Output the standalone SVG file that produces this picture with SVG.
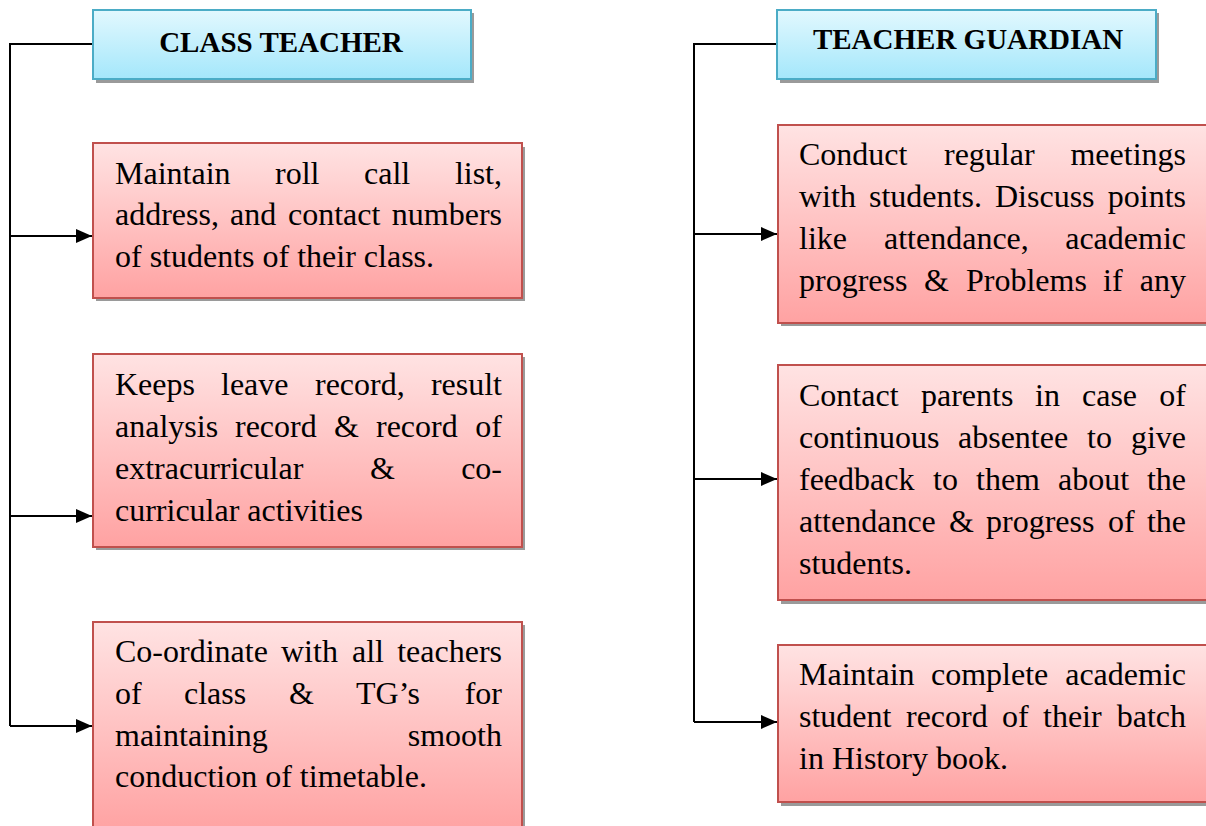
<svg xmlns="http://www.w3.org/2000/svg" width="1206" height="826" viewBox="0 0 1206 826">
<defs>
<linearGradient id="gBlue" x1="0" y1="0" x2="0" y2="1"><stop offset="0" stop-color="#e2f8fe"/><stop offset="1" stop-color="#a4e7fb"/></linearGradient>
<linearGradient id="gRed" x1="0" y1="0" x2="0" y2="1"><stop offset="0" stop-color="#ffe3e3"/><stop offset="1" stop-color="#ffa2a2"/></linearGradient>
<marker id="arr" markerWidth="16" markerHeight="14" refX="16" refY="7" orient="auto" markerUnits="userSpaceOnUse"><path d="M0,0 L16,7 L0,14 Z" fill="#000"/></marker>
</defs>
<style>
.shadow{fill:#9a9a9a}
.hdr{fill:url(#gBlue);stroke:#4bacc6;stroke-width:2}
.box{fill:url(#gRed);stroke:#c0504d;stroke-width:2}
.ht{font-family:"Liberation Serif","Times New Roman",serif;font-weight:bold;font-size:29px;fill:#000;text-anchor:middle}
.t{font-family:"Liberation Serif","Times New Roman",serif;font-size:32px;fill:#000}
.e{text-anchor:end}
.ln{fill:none;stroke:#000;stroke-width:2}
</style>
<g id="connectors">
<path class="ln" d="M93,44 H10 V726"/>
<path class="ln" d="M10,236 H92" marker-end="url(#arr)"/>
<path class="ln" d="M10,516 H92" marker-end="url(#arr)"/>
<path class="ln" d="M10,726 H92" marker-end="url(#arr)"/>
<path class="ln" d="M777,44 H694 V722"/>
<path class="ln" d="M694,234 H777" marker-end="url(#arr)"/>
<path class="ln" d="M694,479 H777" marker-end="url(#arr)"/>
<path class="ln" d="M694,722 H777" marker-end="url(#arr)"/>
</g>
<g id="class-teacher">
<rect class="shadow" x="96" y="13" width="378" height="70"/>
<rect class="hdr" x="93" y="10" width="378" height="69"/>
<text class="ht" x="281" y="52">CLASS TEACHER</text>
</g>
<g id="teacher-guardian">
<rect class="shadow" x="780" y="13" width="379" height="70"/>
<rect class="hdr" x="777" y="10" width="379" height="69"/>
<text class="ht" x="968" y="49">TEACHER GUARDIAN</text>
</g>
<g id="ct1">
<rect class="shadow" x="96" y="147" width="429" height="154"/>
<rect class="box" x="93" y="143" width="429" height="155"/>
<text class="t" y="184"><tspan x="115">Maintain</tspan><tspan x="275">roll</tspan><tspan x="364">call</tspan><tspan x="502" class="e">list,</tspan></text>
<text class="t" y="225"><tspan x="115">address,</tspan><tspan x="230">and</tspan><tspan x="288">contact</tspan><tspan x="502" class="e">numbers</tspan></text>
<text class="t" x="115" y="267">of students of their class.</text>
</g>
<g id="ct2">
<rect class="shadow" x="96" y="357" width="429" height="193"/>
<rect class="box" x="93" y="354" width="429" height="193"/>
<text class="t" y="395"><tspan x="115">Keeps</tspan><tspan x="221">leave</tspan><tspan x="315">record,</tspan><tspan x="502" class="e">result</tspan></text>
<text class="t" y="437"><tspan x="115">analysis</tspan><tspan x="235">record</tspan><tspan x="334">&amp;</tspan><tspan x="376">record</tspan><tspan x="502" class="e">of</tspan></text>
<text class="t" y="479"><tspan x="115">extracurricular</tspan><tspan x="370">&amp;</tspan><tspan x="502" class="e">co-</tspan></text>
<text class="t" x="115" y="521">curricular activities</text>
</g>
<g id="ct3">
<rect class="shadow" x="96" y="625" width="429" height="210"/>
<rect class="box" x="93" y="622" width="429" height="210"/>
<text class="t" y="662"><tspan x="115">Co-ordinate</tspan><tspan x="281">with</tspan><tspan x="352">all</tspan><tspan x="502" class="e">teachers</tspan></text>
<text class="t" y="704"><tspan x="115">of</tspan><tspan x="184">class</tspan><tspan x="289">&amp;</tspan><tspan x="356">TG’s</tspan><tspan x="502" class="e">for</tspan></text>
<text class="t" y="746"><tspan x="115">maintaining</tspan><tspan x="502" class="e">smooth</tspan></text>
<text class="t" x="115" y="787">conduction of timetable.</text>
</g>
<g id="tg1">
<rect class="shadow" x="781" y="129" width="430" height="197"/>
<rect class="box" x="778" y="125" width="432" height="198"/>
<text class="t" y="165"><tspan x="799">Conduct</tspan><tspan x="944">regular</tspan><tspan x="1186" class="e">meetings</tspan></text>
<text class="t" y="207"><tspan x="799">with</tspan><tspan x="869">students.</tspan><tspan x="995">Discuss</tspan><tspan x="1186" class="e">points</tspan></text>
<text class="t" y="249"><tspan x="799">like</tspan><tspan x="884">attendance,</tspan><tspan x="1186" class="e">academic</tspan></text>
<text class="t" y="291"><tspan x="799">progress</tspan><tspan x="924">&amp;</tspan><tspan x="966">Problems</tspan><tspan x="1103">if</tspan><tspan x="1186" class="e">any</tspan></text>
</g>
<g id="tg2">
<rect class="shadow" x="781" y="369" width="430" height="235"/>
<rect class="box" x="778" y="365" width="432" height="235"/>
<text class="t" y="406"><tspan x="799">Contact</tspan><tspan x="921">parents</tspan><tspan x="1035">in</tspan><tspan x="1082">case</tspan><tspan x="1186" class="e">of</tspan></text>
<text class="t" y="448"><tspan x="799">continuous</tspan><tspan x="958">absentee</tspan><tspan x="1087">to</tspan><tspan x="1186" class="e">give</tspan></text>
<text class="t" y="490"><tspan x="799">feedback</tspan><tspan x="933">to</tspan><tspan x="976">them</tspan><tspan x="1058">about</tspan><tspan x="1186" class="e">the</tspan></text>
<text class="t" y="532"><tspan x="799">attendance</tspan><tspan x="949">&amp;</tspan><tspan x="986">progress</tspan><tspan x="1108">of</tspan><tspan x="1186" class="e">the</tspan></text>
<text class="t" x="799" y="574">students.</text>
</g>
<g id="tg3">
<rect class="shadow" x="781" y="649" width="430" height="157"/>
<rect class="box" x="778" y="645" width="432" height="157"/>
<text class="t" y="685"><tspan x="799">Maintain</tspan><tspan x="931">complete</tspan><tspan x="1186" class="e">academic</tspan></text>
<text class="t" y="727"><tspan x="799">student</tspan><tspan x="906">record</tspan><tspan x="1002">of</tspan><tspan x="1043">their</tspan><tspan x="1186" class="e">batch</tspan></text>
<text class="t" x="799" y="769">in History book.</text>
</g>
</svg>
